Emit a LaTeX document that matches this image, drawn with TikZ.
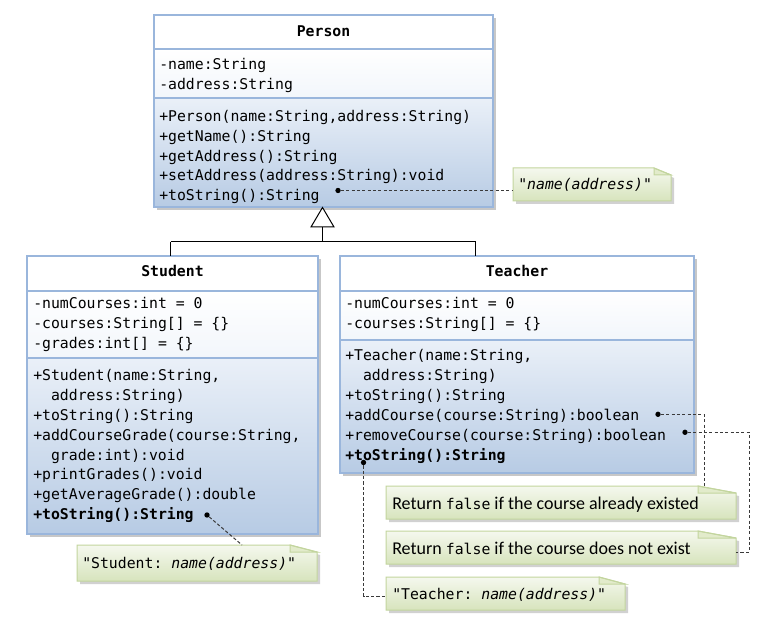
\documentclass[tikz,border=0pt]{standalone}
\usepackage{fontspec}
\setmainfont{Carlito}
\setmonofont{DejaVu Sans Mono}
\usetikzlibrary{calc,fit}
\definecolor{boxline}{HTML}{9AB6DC}
\definecolor{attrbot}{HTML}{F2F6FB}
\definecolor{methtop}{HTML}{EAF0F8}
\definecolor{methbot}{HTML}{B7CBE4}
\definecolor{notetop}{HTML}{F5F8EE}
\definecolor{notebot}{HTML}{D7E4BD}
\definecolor{noteline}{HTML}{C3D59E}
\definecolor{notefold}{HTML}{E2EBCB}
\definecolor{dashc}{HTML}{3A3A3A}
\newcommand\clsfont{\ttfamily\fontsize{11.1}{13}\selectfont}
\newcommand\notefont{\fontsize{13.5}{15}\selectfont}
\newcommand\classdraw[7]{%
  \node[fit={(#2,#3) (#4,#5)}, inner sep=0pt, outer sep=0pt] (#1) {};
  \fill[boxshadow] (#2+3,#3+3) rectangle (#4+3,#5+3);
  \fill[white] (#2,#3) rectangle (#4,#6);
  \shade[top color=white, bottom color=attrbot] (#2,#6) rectangle (#4,#7);
  \shade[top color=methtop, bottom color=methbot] (#2,#7) rectangle (#4,#5);
  \draw[boxborder] (#2,#6) -- (#4,#6) (#2,#7) -- (#4,#7);
  \draw[boxborder] (#2,#3) rectangle (#4,#5);
}
\newcommand\notedraw[6]{% name, l, t, r, b, fold width
  \node[fit={(#2,#3) (#4,#5)}, inner sep=0pt, outer sep=0pt] (#1) {};
  \fill[noteshadow] (#2+3,#3+3) -- (#4+3-#6,#3+3) -- (#4+3,#3+10) -- (#4+3,#5+3) -- (#2+3,#5+3) -- cycle;
  \shade[top color=notetop, bottom color=notebot] (#2,#3) -- (#4-#6,#3) -- (#4,#3+7) -- (#4,#5) -- (#2,#5) -- cycle;
  \draw[noteborder, fill=notefold] (#4-#6,#3) -- (#4,#3+7) -- (#4-#6,#3+7) -- cycle;
  \draw[noteborder] (#2,#3) -- (#4-#6,#3) -- (#4,#3+7) -- (#4,#5) -- (#2,#5) -- cycle;
}
\begin{document}
\begin{tikzpicture}[x=0.75pt,y=-0.75pt,
  boxshadow/.style={fill=black!22},
  noteshadow/.style={fill=black!18},
  boxborder/.style={draw=boxline, line width=0.9pt},
  noteborder/.style={draw=noteline, line width=0.75pt},
  txt/.style={anchor=base west, inner sep=0pt, font=\clsfont},
  ttl/.style={anchor=base, inner sep=0pt, font=\clsfont\bfseries},
  ntxt/.style={anchor=base west, inner sep=0pt, font=\notefont},
  dotn/.style={circle, fill=black, inner sep=0pt, minimum size=4pt},
  dsh/.style={draw=dashc, line width=0.75pt, dash pattern=on 2.4pt off 1.6pt},
  inh/.style={draw=black, line width=0.75pt}]
\useasboundingbox (0,0) rectangle (775,627);
\fill[white] (0,0) rectangle (775,627);

% ---------- Person ----------
\classdraw{person}{154}{15}{493}{207}{49}{98}
\node[ttl] (ptitle) at (323.5,37) {Person};
\node[txt] (pa1) at (159,69.5) {-name:String};
\node[txt] (pa2) at (159,89.3) {-address:String};
\node[txt] (pm1) at (159,121.5) {+Person(name:String,address:String)};
\node[txt] (pm2) at (159,141.3) {+getName():String};
\node[txt] (pm3) at (159,161.1) {+getAddress():String};
\node[txt] (pm4) at (159,180.9) {+setAddress(address:String):void};
\node[txt] (pm5) at (159,200.7) {+toString():String};

% ---------- Student ----------
\classdraw{student}{27}{256}{318}{534}{291}{358}
\node[ttl] (stitle) at (172.5,276.5) {Student};
\node[txt] (sa1) at (33,308.5) {-numCourses:int = 0};
\node[txt] (sa2) at (33,328.3) {-courses:String[] = \{\}};
\node[txt] (sa3) at (33,348.1) {-grades:int[] = \{\}};
\node[txt] (sm1) at (33,380.7) {+Student(name:String,};
\node[txt] (sm1b) at (50.8,400.5) {address:String)};
\node[txt] (sm2) at (33,420.4) {+toString():String};
\node[txt] (sm3) at (33,440.2) {+addCourseGrade(course:String,};
\node[txt] (sm3b) at (50.8,460.1) {grade:int):void};
\node[txt] (sm4) at (33,479.9) {+printGrades():void};
\node[txt] (sm5) at (33,499.8) {+getAverageGrade():double};
\node[txt, font=\clsfont\bfseries] (sm6) at (33,519.6) {+toString():String};

% ---------- Teacher ----------
\classdraw{teacher}{340}{256}{694}{473}{291}{340}
\node[ttl] (ttitle) at (517,277) {Teacher};
\node[txt] (ta1) at (345,308.5) {-numCourses:int = 0};
\node[txt] (ta2) at (345,328.3) {-courses:String[] = \{\}};
\node[txt] (tm1) at (345,361) {+Teacher(name:String,};
\node[txt] (tm1b) at (362.8,380.8) {address:String)};
\node[txt] (tm2) at (345,400.6) {+toString():String};
\node[txt] (tm3) at (345,420.4) {+addCourse(course:String):boolean};
\node[txt] (tm4) at (345,440.2) {+removeCourse(course:String):boolean};
\node[txt, font=\clsfont\bfseries] (tm5) at (345,460) {+toString():String};

% ---------- inheritance ----------
\coordinate (tribase) at (322.5,227);
\coordinate (joint) at (322.5,242);
\coordinate (sj) at (170.5,242);
\coordinate (tj) at (475.5,242);
\draw[inh] (sj) -- (tj);
\draw[inh] (sj) -- (sj |- student.north);
\draw[inh] (tj) -- (tj |- teacher.north);
\draw[inh] (joint) -- (tribase);
\draw[inh, fill=white] (322.5,207.5) -- (334,227) -- (311,227) -- cycle;

% ---------- notes ----------
\notedraw{pn}{513}{168}{671}{201}{17}
\node[ntxt, font=\clsfont] (pnt) at (518,190) {"\textit{name(address)}"};
\notedraw{sn}{77}{545}{317}{581}{27}
\node[ntxt, font=\clsfont] (snt) at (82,568) {"Student: \textit{name(address)}"};
\notedraw{n1}{386}{486}{736}{519}{38}
\node[ntxt] (n1t) at (392,509.5) {Return {\clsfont false} if the course already existed};
\notedraw{n2}{386}{531}{736}{564}{38}
\node[ntxt] (n2t) at (392,554.5) {Return {\clsfont false} if the course does not exist};
\notedraw{n3}{386}{577}{625}{610}{26}
\node[ntxt, font=\clsfont] (n3t) at (392,599) {"Teacher: \textit{name(address)}"};

% ---------- dots and dashed connectors ----------
\node[dotn] (pdot) at (338,190.5) {};
\node[dotn] (sdot) at (207,515) {};
\node[dotn] (t1dot) at (658,414.3) {};
\node[dotn] (t2dot) at (685,432.3) {};
\node[dotn] (t3dot) at (363.5,462.5) {};
\draw[dsh] (pdot) -- (pn.west |- pdot);
\draw[dsh] (sdot) -- ($(sn.north west)!0.6875!(sn.north east)$);
\draw[dsh] (t1dot) -- (704,414.3) -- (704,487);
\draw[dsh] (t2dot) -- (749,432.3) |- ($(n2.east)+(0,5)$);
\draw[dsh] (t3dot) |- ($(n3.west)+(0,3)$);
\end{tikzpicture}
\end{document}
